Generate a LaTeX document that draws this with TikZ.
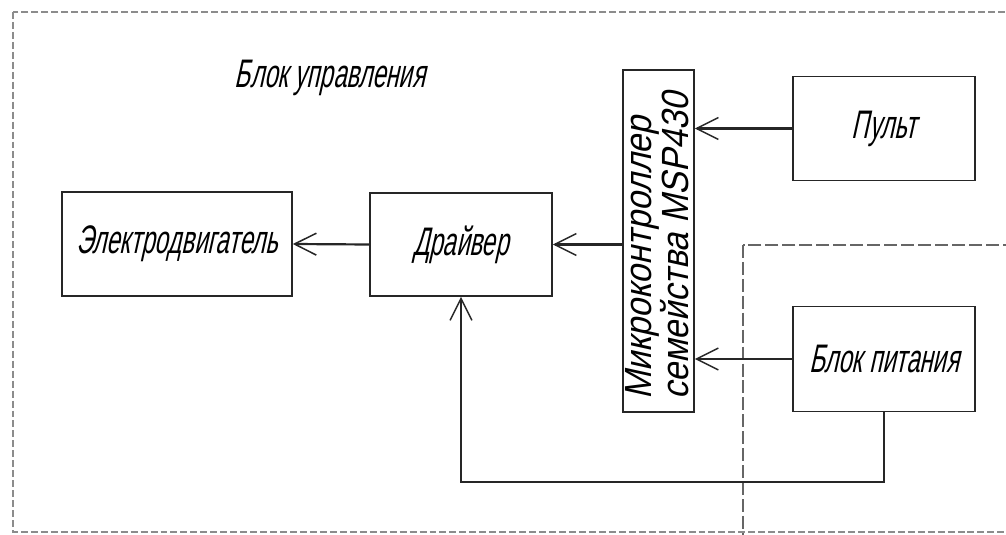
\documentclass[tikz,border=0pt]{standalone}
\usepackage{fontspec}
\setmainfont{Liberation Sans}
\newfontfamily\gostA[FakeSlant=0.22,FakeStretch=0.6]{Liberation Sans}
\newfontfamily\gostB[FakeSlant=0.22,FakeStretch=0.9]{Liberation Sans}
\usetikzlibrary{arrows.meta}
\begin{document}
\begin{tikzpicture}[x=1bp,y=-1bp,
  block/.style={draw=black!85, line width=1.6pt, rectangle, inner sep=0pt,
                font=\gostA\fontsize{40}{42}\selectfont},
  link/.style={draw=black!85, line width=2.2pt,
               -{Straight Barb[length=22pt,width=22pt,line width=1.5pt]}},
  frame/.style={draw=black!45, line width=1.3pt, dash pattern=on 7pt off 3pt},
  subframe/.style={draw=black!60, line width=1.1pt, dash pattern=on 13pt off 4pt}]
\useasboundingbox (0,0) rectangle (1006,535);
\clip (0,0) rectangle (1006,535);
\fill[white] (0,0) rectangle (1006,535);

% outer frame of the control unit and the power-supply sub-frame
\draw[frame] (13,12) rectangle (1030,532);
\draw[subframe] (743,245) rectangle (1030,560);

\node[font=\gostA\fontsize{40}{42}\selectfont] (title) at (330,78) {Блок управления};

% blocks
\node[block, minimum width=230bp, minimum height=104bp] (motor) at (177,244) {Электродвигатель};
\node[block, minimum width=182bp, minimum height=103bp] (driver) at (461,244.5) {Драйвер};
\node[block, minimum width=71bp, minimum height=342bp] (mc) at (658.5,241) {};
\node[font=\gostB\fontsize{38}{27}\selectfont, rotate=90, align=left, anchor=west, inner sep=0pt]
  (mctext) at (657,400) {Микроконтроллер\\семейства MSP430};
\node[block, minimum width=182bp, minimum height=104bp] (pult) at (884,128.5) {Пульт};
\node[block, minimum width=182bp, minimum height=105bp] (power) at (884,359) {Блок питания};

% connections
\coordinate (bend) at (885,482);
\draw[link] (pult.west) -- (mc.east |- pult.west);
\draw[link] (power.west) -- (mc.east |- power.west);
\draw[link] (driver.east -| mc.west) -- (driver.east);
\draw[link] (driver.west) -- (motor.east);
\draw[link] (power.south) |- (driver.south |- bend) -- (driver.south);
\end{tikzpicture}
\end{document}
